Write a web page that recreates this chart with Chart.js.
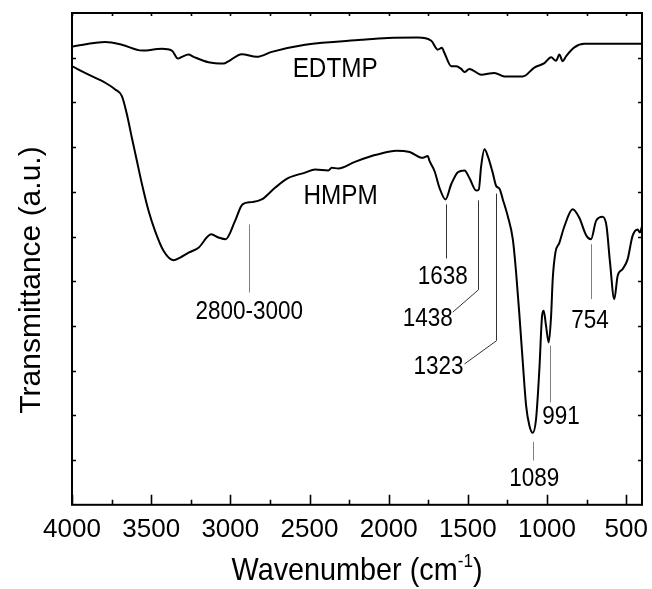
<!DOCTYPE html>
<html><head><meta charset="utf-8">
<script src="https://cdn.jsdelivr.net/npm/chart.js@4/dist/chart.umd.min.js"></script>
<style>html,body{margin:0;padding:0;background:#fff}#wrap{width:652px;height:589px}</style>
</head><body><div id="wrap"><canvas id="c" width="652" height="589"></canvas></div>
<script>
// ---- data ----
const xTickValues = [500, 1000, 1500, 2000, 2500, 3000, 3500, 4000];
const xMinorTickValues = [750, 1250, 1750, 2250, 2750, 3250, 3750];
const yTickValues = [1, 2, 3, 4, 5, 6, 7, 8, 9, 10];

const edtmpWn = [4000,3790,3685,3558,3432,3369,3331,3306,3264,3232,3138,3043,3012,2928,2833,2738,2528,2171,2005,1816,1731,1690,1664,1647,1605,1573,1542,1521,1490,1416,1332,1269,1185,1153,1080,1016,974,943,922,901,880,827,764,700,400];
const edtmpT  = [10.25,10.35,10.29,10.16,10.20,10.16,9.98,10.02,10.07,10.02,9.90,9.87,9.92,10.08,10.02,10.13,10.29,10.40,10.44,10.45,10.38,10.18,10.22,10.10,9.81,9.81,9.75,9.68,9.75,9.62,9.66,9.58,9.58,9.58,9.78,9.88,10.01,9.93,10.07,9.92,10.03,10.23,10.31,10.31,10.31];

const hmpmWn = [4000,3895,3790,3727,3685,3653,3622,3590,3558,3516,3475,3422,3359,3317,3264,3201,3121,3075,3029,2970,2923,2865,2802,2718,2633,2528,2465,2381,2360,2318,2213,2108,2078,1952,1868,1784,1753,1742,1710,1679,1641,1605,1563,1521,1490,1447,1431,1416,1395,1374,1343,1321,1300,1279,1248,1216,1195,1174,1153,1132,1111,1090,1069,1048,1031,1021,1006,989,974,964,947,922,890,838,796,753,722,690,649,624,602,575,554,523,491,460,428,413,400];
const hmpmT  = [9.81,9.62,9.44,9.29,9.14,8.73,8.21,7.69,7.17,6.57,6.12,5.68,5.47,5.53,5.64,5.75,6.05,5.98,5.94,6.35,6.72,6.77,6.83,7.09,7.31,7.43,7.50,7.48,7.54,7.52,7.67,7.80,7.83,7.92,7.89,7.76,7.80,7.69,7.46,7.09,6.83,7.17,7.44,7.48,7.31,7.03,7.05,7.57,7.95,7.80,7.43,7.13,7.07,6.83,6.46,5.94,5.19,4.23,3.19,2.22,1.77,1.61,1.92,3.04,4.23,4.34,4.00,3.63,4.23,5.04,5.64,5.86,6.23,6.61,6.42,6.03,5.94,6.35,6.44,6.23,5.42,4.60,5.12,5.27,5.49,6.01,6.16,6.09,6.23];

// peak marker lines: [wavenumber, yFrom, yTo, elbowWn, elbowY]
const markerWn    = [2884, 1641, 1435, 1321, 1086, 980, 722];
const markerFrom  = [6.27, 6.72, 6.81, 6.96, 1.41, 3.56, 5.83];
const markerTo    = [4.75, 5.51, 4.81, 3.67, 0.99, 2.29, 4.60];
const markerElbWn = [null, null, 1595, 1521, null, null, null];
const markerElbY  = [null, null, 4.31, 3.15, null, null, null];
const markerGrey  = [true, false, false, false, true, true, true];

// peak labels
const peakText = ['2800-3000', '1638', '1438', '1323', '1089', '991', '754'];
const peakWn   = [2880, 1658, 1753, 1685, 1080, 911, 728];
const peakY    = [4.36, 5.13, 4.21, 3.13, 0.62, 2.01, 4.16];

// series labels
const seriesText = ['EDTMP', 'HMPM'];
const seriesWn   = [2338, 2303];
const seriesY    = [9.78, 6.94];

const xTitle = 'Wavenumber (cm';
const xTitleSup = '-1';
const xTitleEnd = ')';
const yTitle = 'Transmittance (a.u.)';

const FONT = '"Liberation Sans", Arial, Helvetica, sans-serif';

function drawText(ctx, txt, x, yc, size, sx) {
  ctx.save();
  ctx.font = size + 'px ' + FONT;
  ctx.textAlign = 'center';
  ctx.textBaseline = 'alphabetic';
  ctx.translate(x, yc + 0.358 * size);
  ctx.scale(sx, 1);
  ctx.fillText(txt, 0, 0);
  ctx.restore();
}

const decorPlugin = {
  id: 'decor',
  afterDatasetsDraw(chart) {
    const {ctx, chartArea: a, scales: {x, y}} = chart;
    ctx.save();
    ctx.fillStyle = '#000';
    // frame
    ctx.strokeStyle = '#000';
    ctx.lineWidth = 2;
    ctx.strokeRect(a.left, a.top, a.right - a.left, a.bottom - a.top);
    // ticks
    ctx.lineWidth = 1.6;
    ctx.beginPath();
    xTickValues.forEach(v => {
      const px = Math.round(x.getPixelForValue(v)) + 0.5;
      ctx.moveTo(px, a.bottom); ctx.lineTo(px, a.bottom - 10);
      ctx.moveTo(px, a.top); ctx.lineTo(px, a.top + 3);
    });
    xMinorTickValues.forEach(v => {
      const px = Math.round(x.getPixelForValue(v)) + 0.5;
      ctx.moveTo(px, a.bottom); ctx.lineTo(px, a.bottom - 5);
      ctx.moveTo(px, a.top); ctx.lineTo(px, a.top + 3);
    });
    yTickValues.forEach(v => {
      const py = Math.round(y.getPixelForValue(v)) + 0.5;
      ctx.moveTo(a.left, py); ctx.lineTo(a.left + 4, py);
      ctx.moveTo(a.right, py); ctx.lineTo(a.right - 4, py);
    });
    ctx.stroke();

    // marker lines
    ctx.lineWidth = 1;
    markerWn.forEach((w, i) => {
      ctx.strokeStyle = markerGrey[i] ? '#808080' : '#333';
      ctx.beginPath();
      const px = Math.round(x.getPixelForValue(w)) + 0.5;
      ctx.moveTo(px, y.getPixelForValue(markerFrom[i]));
      ctx.lineTo(px, y.getPixelForValue(markerTo[i]));
      if (markerElbWn[i] !== null) {
        ctx.lineTo(x.getPixelForValue(markerElbWn[i]), y.getPixelForValue(markerElbY[i]));
      }
      ctx.stroke();
    });

    // labels
    peakText.forEach((t, i) => drawText(ctx, t, x.getPixelForValue(peakWn[i]), y.getPixelForValue(peakY[i]), 25, 0.9));
    seriesText.forEach((t, i) => drawText(ctx, t, x.getPixelForValue(seriesWn[i]), y.getPixelForValue(seriesY[i]), 27, 0.9));

    // x title with superscript
    const cx = (a.left + a.right) / 2;
    const base = 580;
    ctx.save();
    ctx.font = '32px ' + FONT;
    const w1 = ctx.measureText(xTitle).width;
    const w3 = ctx.measureText(xTitleEnd).width;
    ctx.font = '19px ' + FONT;
    const w2 = ctx.measureText(xTitleSup).width;
    const sx = 0.9;
    const total = (w1 + w2 + w3) * sx;
    ctx.translate(cx - total / 2, base);
    ctx.scale(sx, 1);
    ctx.textAlign = 'left';
    ctx.textBaseline = 'alphabetic';
    ctx.font = '32px ' + FONT;
    ctx.fillText(xTitle, 0, 0);
    ctx.font = '19px ' + FONT;
    ctx.fillText(xTitleSup, w1, -13);
    ctx.font = '32px ' + FONT;
    ctx.fillText(xTitleEnd, w1 + w2, 0);
    ctx.restore();

    // y title
    ctx.save();
    ctx.translate(29 + 0.358 * 30, 280);
    ctx.rotate(-Math.PI / 2);
    ctx.font = '30px ' + FONT;
    ctx.textAlign = 'center';
    ctx.textBaseline = 'alphabetic';
    ctx.fillText(yTitle, 0, 0);
    ctx.restore();

    ctx.restore();
  }
};

const mk = (wn, t) => wn.map((w, i) => ({x: w, y: t[i]}));

new Chart(document.getElementById('c').getContext('2d'), {
  type: 'line',
  data: {
    datasets: [
      {label: 'EDTMP', data: mk(edtmpWn, edtmpT), borderColor: '#000', borderWidth: 2, pointRadius: 0, fill: false, cubicInterpolationMode: 'monotone'},
      {label: 'HMPM', data: mk(hmpmWn, hmpmT), borderColor: '#000', borderWidth: 2, pointRadius: 0, fill: false, cubicInterpolationMode: 'monotone'}
    ]
  },
  options: {
    responsive: false,
    animation: false,
    devicePixelRatio: 1,
    layout: {padding: {left: 72, right: 10, top: 13, bottom: 35}},
    plugins: {legend: {display: false}, tooltip: {enabled: false}},
    scales: {
      x: {
        type: 'linear', reverse: true, min: 400, max: 4000,
        border: {display: false},
        grid: {display: false, drawTicks: false},
        ticks: {font: {family: FONT, size: 26}, color: '#000', padding: 9, maxRotation: 0, autoSkip: false, callback: v => String(v)},
        afterBuildTicks: ax => { ax.ticks = xTickValues.map(v => ({value: v})); }
      },
      y: {min: 0, max: 11, display: false}
    }
  },
  plugins: [decorPlugin]
});
</script>
</body></html>
